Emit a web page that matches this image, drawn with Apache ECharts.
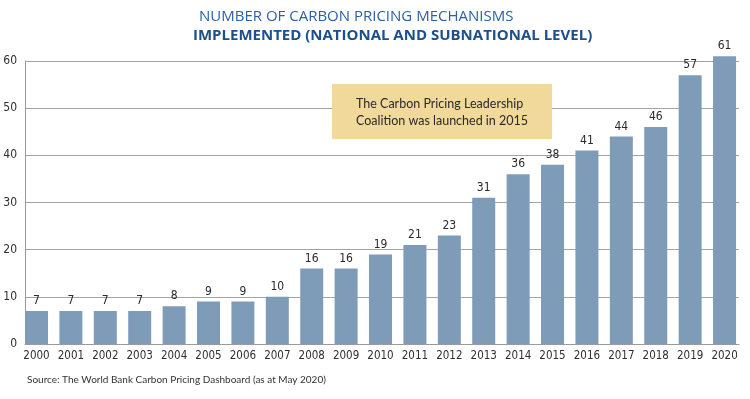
<!DOCTYPE html>
<html>
<head>
<meta charset="utf-8">
<script src="https://cdn.jsdelivr.net/npm/echarts@6.0.0/dist/echarts.min.js"></script>
<style>
  html, body { margin: 0; padding: 0; background: #fff; }
  #chart { width: 750px; height: 399px; }
</style>
</head>
<body>
<div id="chart"></div>
<script>
const years = ['2000', '2001', '2002', '2003', '2004', '2005', '2006', '2007', '2008', '2009', '2010',
    '2011', '2012', '2013', '2014', '2015', '2016', '2017', '2018', '2019', '2020'];
const counts = [7, 7, 7, 7, 8, 9, 9, 10, 16, 16, 19, 21, 23, 31, 36, 38, 41, 44, 46, 57, 61];
const yTicks = [0, 10, 20, 30, 40, 50, 60];

const narrow = '"Liberation Sans Narrow", "DejaVu Sans Condensed", Roboto, sans-serif';

let chart = echarts.init(document.getElementById('chart'));
let option = {
    animation: false,
    backgroundColor: '#fff',
    title: [
        {
            text: 'NUMBER OF CARBON PRICING MECHANISMS',
            left: 199,
            top: 9,
            padding: 0,
            textStyle: { fontFamily: 'Open Sans', fontSize: 15, fontWeight: 'normal', color: '#2b62a3' }
        },
        {
            text: 'IMPLEMENTED (NATIONAL AND SUBNATIONAL LEVEL)',
            left: 193,
            top: 28,
            padding: 0,
            textStyle: { fontFamily: 'Open Sans', fontSize: 15, fontWeight: 'bold', color: '#1c4f8c' }
        },
        {
            text: 'The Carbon Pricing Leadership\nCoalition was launched in 2015',
            left: 332,
            top: 84,
            padding: [11, 24, 10, 24],
            backgroundColor: '#f1d99b',
            textStyle: { fontFamily: 'Lato', fontSize: 12.5, lineHeight: 17, fontWeight: 'normal', color: '#2a2a2a' }
        },
        {
            text: 'Source: The World Bank Carbon Pricing Dashboard (as at May 2020)',
            left: 27,
            top: 375,
            padding: 0,
            textStyle: { fontFamily: 'Lato', fontSize: 10, fontWeight: 'normal', color: '#333' }
        }
    ],
    grid: {
        left: 25,
        right: 11,
        top: 61,
        bottom: 55
    },
    xAxis: {
        type: 'value',
        min: -0.334,
        max: 20.42,
        axisLine: { show: true, lineStyle: { color: '#9a9a9a', width: 1 } },
        axisTick: { show: false },
        splitLine: { show: false },
        axisLabel: {
            customValues: years.map((y, i) => i),
            formatter: v => years[Math.round(v)],
            fontFamily: narrow,
            fontSize: 11.5,
            color: '#2f2f2f',
            margin: 6
        }
    },
    yAxis: {
        type: 'value',
        min: yTicks[0],
        max: yTicks[yTicks.length - 1],
        interval: 10,
        axisLine: { show: true, onZero: false, lineStyle: { color: '#9a9a9a', width: 1 } },
        axisTick: { show: false },
        splitLine: { show: true, lineStyle: { color: '#a3a3a3', width: 1 } },
        axisLabel: {
            fontFamily: narrow,
            fontSize: 12,
            color: '#2f2f2f',
            margin: 8
        }
    },
    series: [
        {
            type: 'bar',
            data: counts.map((v, i) => [i, v]),
            barWidth: 23,
            clip: false,
            itemStyle: { color: '#7e9cb8' },
            label: {
                show: true,
                position: 'top',
                distance: 4,
                fontFamily: narrow,
                fontSize: 12,
                color: '#2a2a2a',
                formatter: p => p.value[1]
            }
        }
    ]
};
chart.setOption(option);
</script>
</body>
</html>
